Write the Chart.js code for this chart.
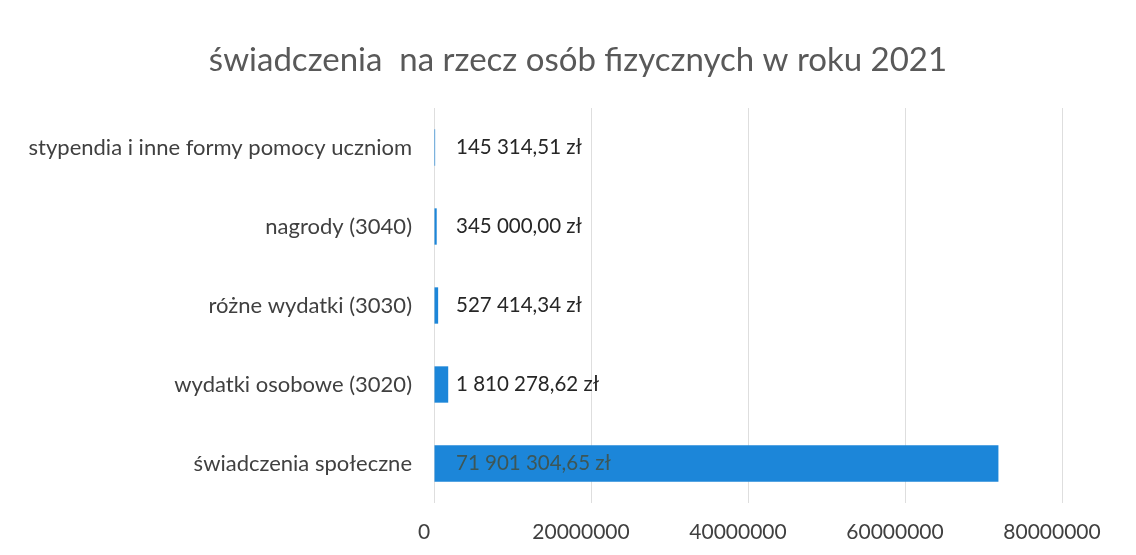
<!DOCTYPE html>
<html><head><meta charset="utf-8">
<script src="https://cdn.jsdelivr.net/npm/chart.js@4/dist/chart.umd.min.js"></script>
<style>html,body{margin:0;padding:0;background:#fff}#w{width:1136px;height:555px}</style>
</head><body><div id="w"><canvas id="c" width="1136" height="555"></canvas></div>
<script>
const categories = ["stypendia i inne formy pomocy uczniom","nagrody (3040)","różne wydatki (3030)","wydatki osobowe (3020)","świadczenia społeczne"];
const values = [145314.51, 345000.00, 527414.34, 1810278.62, 71901304.65];
const valueLabels = ["145 314,51 zł","345 000,00 zł","527 414,34 zł","1 810 278,62 zł","71 901 304,65 zł"];
const xTicks = [0, 20000000, 40000000, 60000000, 80000000];
const titleText = "świadczenia  na rzecz osób fizycznych w roku 2021";
const FONT = "Lato, 'Liberation Sans', sans-serif";

const labelPlugin = {
  id: 'vlabels',
  afterDatasetsDraw(chart) {
    const ctx = chart.ctx;
    const meta = chart.getDatasetMeta(0);
    const x0 = chart.scales.x.getPixelForValue(0);
    ctx.save();
    ctx.font = "20.5px " + FONT;
    ctx.textBaseline = 'middle';
    ctx.textAlign = 'left';
    meta.data.forEach((bar, i) => {
      ctx.fillStyle = i === values.length - 1 ? '#3d5656' : '#262626';
      ctx.fillText(valueLabels[i], x0 + 22, bar.y);
    });
    ctx.font = "33px " + FONT;
    ctx.fillStyle = '#595959';
    ctx.textAlign = 'center';
    ctx.fillText(titleText, 578, 60);
    ctx.restore();
  }
};

new Chart(document.getElementById('c'), {
  type: 'bar',
  data: { labels: categories, datasets: [{ data: values, backgroundColor: '#1c86d9', borderWidth: 0, barPercentage: 0.46, categoryPercentage: 1 }] },
  options: {
    indexAxis: 'y', responsive: false, animation: false,
    layout: { padding: { top: 108, right: 74, bottom: 0, left: 20 } },
    plugins: { legend: { display: false }, tooltip: { enabled: false }, title: { display: false } },
    scales: {
      x: {
        min: 0, max: 80000000,
        afterBuildTicks(s) { s.ticks = xTicks.map(v => ({ value: v })); },
        afterFit(s) { s.height = 52; },
        grid: { color: '#dedede', drawTicks: false }, border: { display: false },
        ticks: { color: '#404040', font: { family: FONT, size: 21 }, padding: 17, labelOffset: -10, maxRotation: 0, callback: v => String(v) }
      },
      y: {
        grid: { display: false }, border: { display: false },
        afterFit(s) { s.width = 414; },
        ticks: { color: '#404040', font: { family: FONT, size: 22 }, padding: 14 }
      }
    }
  },
  plugins: [labelPlugin]
});
</script></body></html>
